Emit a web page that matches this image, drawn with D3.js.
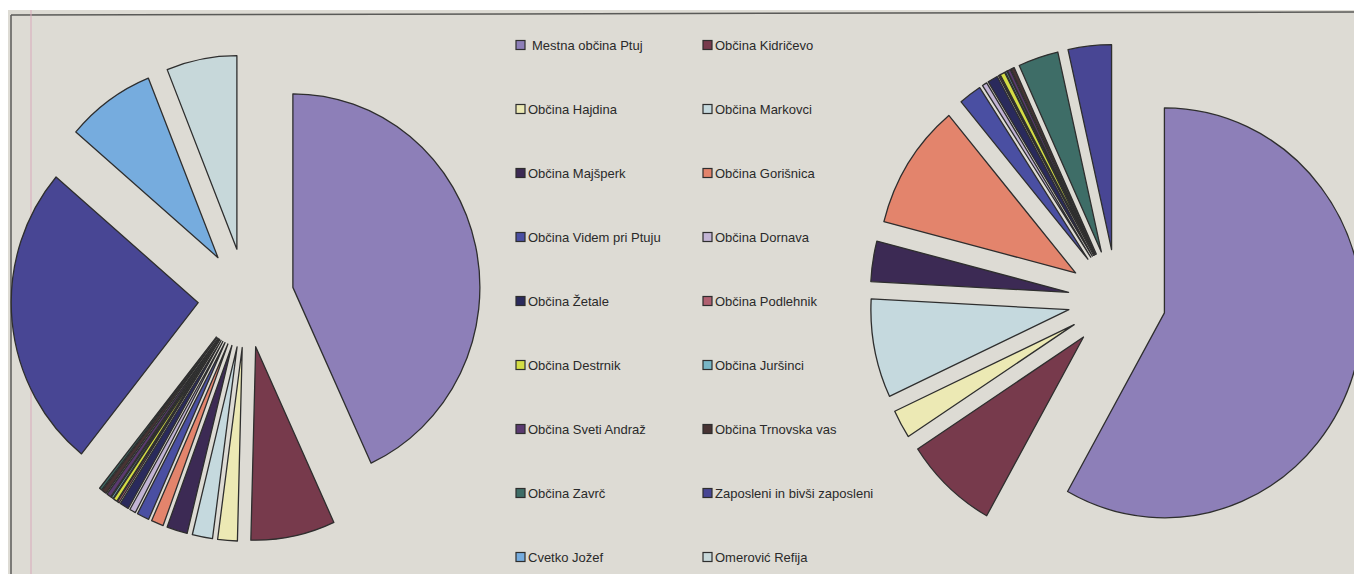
<!DOCTYPE html>
<html>
<head>
<meta charset="utf-8">
<script src="https://cdn.jsdelivr.net/npm/d3@7/dist/d3.min.js"></script>
<style>
  html, body { margin: 0; padding: 0; background: #ffffff; }
  svg { display: block; }
  text { font-family: "Liberation Sans", Arial, sans-serif; }
</style>
</head>
<body>
<svg id="chart" width="1354" height="574"></svg>
<script>
// ---- data ----
const categories = [
  "Mestna občina Ptuj", "Občina Kidričevo",
  "Občina Hajdina", "Občina Markovci",
  "Občina Majšperk", "Občina Gorišnica",
  "Občina Videm pri Ptuju", "Občina Dornava",
  "Občina Žetale", "Občina Podlehnik",
  "Občina Destrnik", "Občina Juršinci",
  "Občina Sveti Andraž", "Občina Trnovska vas",
  "Občina Zavrč", "Zaposleni in bivši zaposleni",
  "Cvetko Jožef", "Omerović Refija"
];
// shares (%)
const leftValues = [43.14, 7.28, 1.69, 1.75, 1.78, 1.06, 1.06, 0.53, 0.78, 0.17, 0.33, 0.17, 0.39, 0.39, 0.22, 25.53, 7.67, 6.08];
// shares (%)
const rightValues = [58.14, 7.67, 2.25, 7.78, 3.19, 9.92, 1.86, 0.39, 0.83, 0.11, 0.39, 0.14, 0.25, 0.28, 3.28, 3.53, 0, 0];
const colors = [
  "#8d7fb8", "#773a4c",
  "#ece9b4", "#c5d9de",
  "#3c2a54", "#e3846c",
  "#4a4fa2", "#c2b4d4",
  "#2a2a5c", "#b06070",
  "#d4dd45", "#78b6c6",
  "#5a3a70", "#483333",
  "#3e6d67", "#484694",
  "#76acde", "#c7d8da"
];

// ---- drawing ----
const svg = d3.select("#chart");
const W = 1354, H = 574;

// paper background
svg.append("rect").attr("x", 0).attr("y", 0).attr("width", W).attr("height", H).attr("fill", "#ffffff");
svg.append("rect").attr("x", 8).attr("y", 10).attr("width", W - 8).attr("height", H - 10).attr("fill", "#dddbd4");
// frame lines
svg.append("line").attr("x1", 11).attr("y1", 15).attr("x2", W).attr("y2", 12)
  .attr("stroke", "#5a5a58").attr("stroke-width", 1.5);
svg.append("line").attr("x1", 11).attr("y1", 15).attr("x2", 11).attr("y2", H)
  .attr("stroke", "#5a5a58").attr("stroke-width", 1.5);
svg.append("line").attr("x1", 31).attr("y1", 10).attr("x2", 31).attr("y2", H)
  .attr("stroke", "#d9a9bb").attr("stroke-width", 1);

// the printed pies are slightly taller than wide (scan stretch)
const stretchY = 1.035;

function drawPie(values, cx, cy, radius, explode) {
  const data = values.map((v, i) => ({ name: categories[i], value: v, color: colors[i] }));
  const pie = d3.pie().sort(null).value(d => d.value);
  const arc = d3.arc().innerRadius(0).outerRadius(radius);
  const g = svg.append("g").attr("transform", `translate(${cx},${cy}) scale(1,${stretchY})`);
  g.selectAll("path")
    .data(pie(data).filter(a => a.data.value > 0))
    .join("path")
    .attr("transform", a => {
      const mid = (a.startAngle + a.endAngle) / 2;
      return `translate(${explode * Math.sin(mid)},${-explode * Math.cos(mid)})`;
    })
    .attr("d", arc)
    .attr("fill", a => a.data.color)
    .attr("stroke", "#2e2e2e")
    .attr("stroke-width", 1.3)
    .attr("vector-effect", "non-scaling-stroke")
    .attr("stroke-linejoin", "round");
}

drawPie(leftValues, 246, 298, 187, 48);
drawPie(rightValues, 1117, 300, 198, 49);

// legend
const legend = svg.append("g");
const colX = [516, 703];
const rowY0 = 45, rowStep = 64;
const items = legend.selectAll("g.item")
  .data(categories.map((c, i) => ({ name: c, color: colors[i], i })))
  .join("g")
  .attr("class", "item")
  .attr("transform", d => `translate(${colX[d.i % 2]},${rowY0 + Math.floor(d.i / 2) * rowStep})`);
items.append("rect")
  .attr("x", 0).attr("y", -4.5).attr("width", 9).attr("height", 9)
  .attr("fill", d => d.color).attr("stroke", "#2e2e2e").attr("stroke-width", 1.2);
items.append("text")
  .attr("x", d => d.i === 0 ? 16 : 12)
  .attr("y", 0)
  .attr("dy", "0.36em")
  .attr("font-size", 13)
  .attr("fill", "#2a2a2a")
  .text(d => d.name);
</script>
</body>
</html>
